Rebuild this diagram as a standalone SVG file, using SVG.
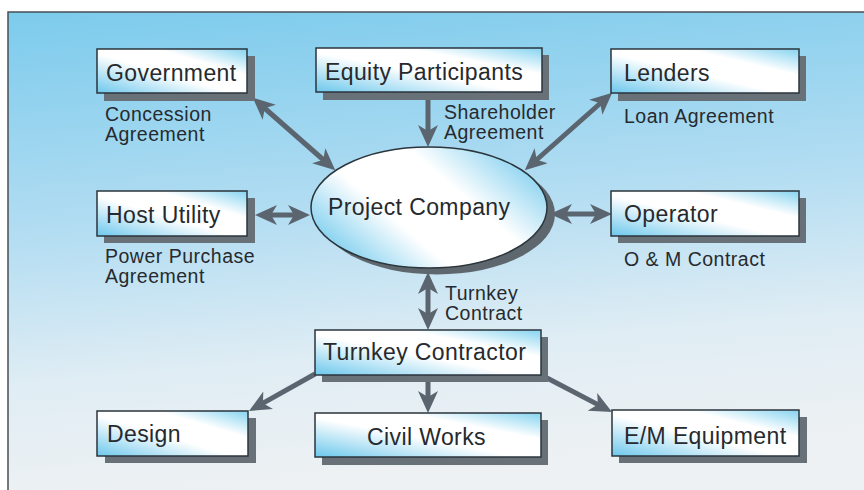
<svg xmlns="http://www.w3.org/2000/svg" width="864" height="490" viewBox="0 0 864 490">
<style>
.box{fill:url(#boxg);stroke:#2b353c;stroke-width:1.5}
.sh{fill:#687078}
.t{font-family:"Liberation Sans",Arial,sans-serif;font-size:23px;letter-spacing:0.4px;fill:#262a2e}
.l{font-family:"Liberation Sans",Arial,sans-serif;font-size:19.5px;letter-spacing:0.5px;fill:#262a2e}
.c{stroke:#5b6570;stroke-width:5;fill:none}
.c1{marker-end:url(#ah)}
.c2{marker-start:url(#ah);marker-end:url(#ah)}
</style>
<defs>
<linearGradient id="bg" x1="0" y1="0" x2="0.15" y2="1">
<stop offset="0" stop-color="#7ccbec"/>
<stop offset="0.45" stop-color="#b3ddf2"/>
<stop offset="0.75" stop-color="#e0edf4"/>
<stop offset="1" stop-color="#eef1f3"/>
</linearGradient>
<linearGradient id="boxg" x1="0" y1="1" x2="1" y2="0">
<stop offset="0" stop-color="#6cc7ec"/>
<stop offset="0.45" stop-color="#ffffff"/>
<stop offset="0.7" stop-color="#ffffff"/>
<stop offset="1" stop-color="#85d3f0"/>
</linearGradient>
<linearGradient id="elg" x1="0" y1="0.8" x2="1" y2="0.2">
<stop offset="0" stop-color="#6ec8ec"/>
<stop offset="0.35" stop-color="#ffffff"/>
<stop offset="0.65" stop-color="#ffffff"/>
<stop offset="1" stop-color="#7ccdee"/>
</linearGradient>
<marker id="ah" markerUnits="userSpaceOnUse" viewBox="0 0 22 20" markerWidth="22" markerHeight="20" refX="11" refY="10" orient="auto-start-reverse">
<path d="M0,0 L22,10 L0,20 L6,10 z" fill="#5b6570"/>
</marker>
</defs>
<rect x="0" y="0" width="864" height="490" fill="#ffffff"/>
<rect x="8" y="12" width="870" height="490" fill="url(#bg)" stroke="#4a4f55" stroke-width="1.5"/>

<g id="connectors">
<line class="c c2" x1="261" y1="105" x2="327" y2="163"/>
<line class="c c1" x1="428" y1="100" x2="428" y2="136"/>
<line class="c c2" x1="604" y1="100" x2="533" y2="163"/>
<line class="c c2" x1="266" y1="215" x2="299" y2="215"/>
<line class="c c2" x1="561" y1="214" x2="601" y2="214"/>
<line class="c c2" x1="428" y1="283" x2="428" y2="319"/>
<line class="c c1" x1="315" y1="374" x2="258.6" y2="405.6"/>
<line class="c c1" x1="428" y1="382" x2="428" y2="402"/>
<line class="c c1" x1="547" y1="378" x2="602.3" y2="406.9"/>
</g>

<g id="government">
<rect class="sh" x="104" y="56" width="151" height="45"/>
<rect class="box" x="97" y="49" width="150" height="44"/>
<text class="t" x="106" y="81">Government</text>
</g>
<g id="equity-participants">
<rect class="sh" x="323" y="55" width="226" height="45"/>
<rect class="box" x="316" y="48" width="226" height="44"/>
<text class="t" x="325" y="80">Equity Participants</text>
</g>
<g id="lenders">
<rect class="sh" x="618" y="56" width="188" height="45"/>
<rect class="box" x="611" y="49" width="188" height="44"/>
<text class="t" x="624" y="81">Lenders</text>
</g>
<g id="host-utility">
<rect class="sh" x="104" y="198" width="151" height="45"/>
<rect class="box" x="97" y="191" width="150" height="45"/>
<text class="t" x="106" y="223">Host Utility</text>
</g>
<g id="project-company">
<ellipse cx="437" cy="214" rx="118" ry="60.5" fill="#5f676e"/>
<ellipse cx="429" cy="207.5" rx="118" ry="60.5" fill="url(#elg)" stroke="#2b353c" stroke-width="1.5"/>
<text class="t" x="328" y="215">Project Company</text>
</g>
<g id="operator">
<rect class="sh" x="618" y="198" width="188" height="45"/>
<rect class="box" x="611" y="191" width="188" height="45"/>
<text class="t" x="624" y="222">Operator</text>
</g>
<g id="turnkey-contractor">
<rect class="sh" x="322" y="337" width="226" height="45"/>
<rect class="box" x="315" y="330" width="226" height="45"/>
<text class="t" x="323" y="360">Turnkey Contractor</text>
</g>
<g id="design">
<rect class="sh" x="105" y="418" width="151" height="45"/>
<rect class="box" x="97" y="411" width="151" height="45"/>
<text class="t" x="107" y="442">Design</text>
</g>
<g id="civil-works">
<rect class="sh" x="322" y="420" width="226" height="45"/>
<rect class="box" x="315" y="413" width="226" height="44"/>
<text class="t" x="367" y="445">Civil Works</text>
</g>
<g id="em-equipment">
<rect class="sh" x="619" y="417" width="188" height="46"/>
<rect class="box" x="612" y="410" width="187" height="46"/>
<text class="t" x="624" y="444">E/M Equipment</text>
</g>

<g id="labels">
<text class="l" x="105" y="121">Concession</text>
<text class="l" x="105" y="141">Agreement</text>
<text class="l" x="444" y="119">Shareholder</text>
<text class="l" x="444" y="139">Agreement</text>
<text class="l" x="624" y="123">Loan Agreement</text>
<text class="l" x="105" y="263">Power Purchase</text>
<text class="l" x="105" y="283">Agreement</text>
<text class="l" x="624" y="266">O &amp; M Contract</text>
<text class="l" x="445" y="300">Turnkey</text>
<text class="l" x="445" y="320">Contract</text>
</g>
</svg>
